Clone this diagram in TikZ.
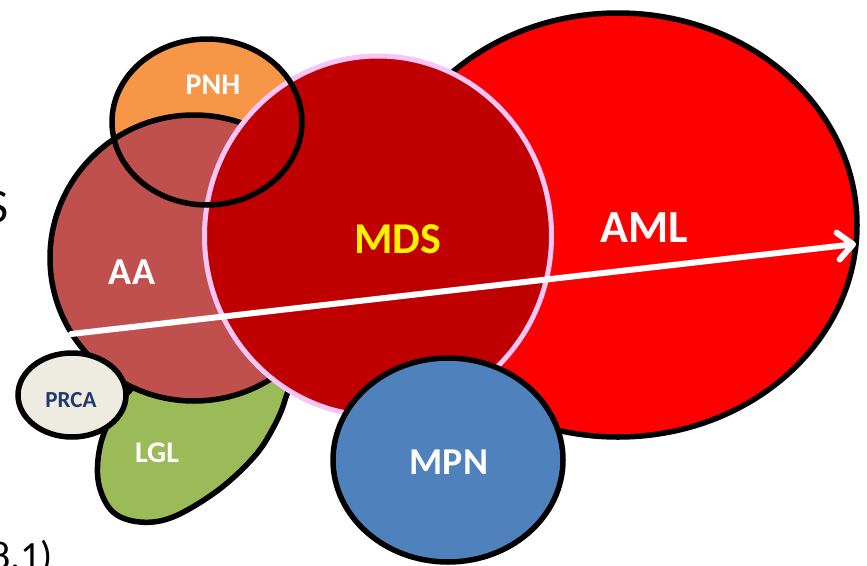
\documentclass[tikz,border=0pt]{standalone}
\usepackage{fontspec}
\setmainfont{Carlito}
\usetikzlibrary{shapes.geometric,arrows.meta}

\definecolor{amlred}{HTML}{FF0000}
\definecolor{mdsred}{HTML}{C00000}
\definecolor{mdspink}{HTML}{F9C4F6}
\definecolor{aarose}{HTML}{C0504D}
\definecolor{pnhorange}{HTML}{F79646}
\definecolor{lglgreen}{HTML}{9BBB59}
\definecolor{mpnblue}{HTML}{4F81BD}
\definecolor{prcacream}{HTML}{EEECE1}
\definecolor{prcanavy}{HTML}{1F3A70}

\tikzset{
  blob/.style={ellipse, inner sep=0pt, outer sep=0pt},
  rim/.style={draw=black, line width=5.5pt},
  tag/.style={inner sep=0pt, text=white, font=\bfseries\fontsize{#1}{#1}\selectfont},
  edgetext/.style={inner sep=0pt, text=black, font=\fontsize{#1}{#1}\selectfont},
}

\begin{document}
\begin{tikzpicture}[x=1pt,y=-1pt]
\useasboundingbox (0,0) rectangle (867,565);
\clip (0,0) rectangle (867,565);

% PNH fill sits at the back; its ring is drawn later on top
\node[blob, fill=pnhorange, minimum width=190pt, minimum height=166pt] (pnh) at (207,122) {};

% AML
\node[blob, rim, fill=amlred, minimum width=478pt, minimum height=424pt] (aml) at (618,225) {};

% LGL teardrop
\draw[rim, fill=lglgreen] plot[smooth cycle, tension=0.6] coordinates {
  (292,360) (285,400) (272,430) (253,458) (217,491) (173,517) (140,522)
  (113,512) (99,485) (99,452) (110,420) (135,385) (180,352) (240,342)};

% AA
\node[blob, rim, fill=aarose, minimum width=288pt, minimum height=286pt] (aa) at (194,258) {};

% PRCA
\node[blob, rim, fill=prcacream, minimum width=108pt, minimum height=84pt] (prca) at (72,395) {};

% MDS
\node[blob, draw=mdspink, line width=5pt, fill=mdsred, minimum width=347pt, minimum height=360pt] (mds) at (378,236) {};

% PNH ring over everything behind it
\node[blob, rim, minimum width=190pt, minimum height=166pt] (pnhring) at (207,122) {};

% MPN
\node[blob, rim, fill=mpnblue, minimum width=230pt, minimum height=204pt] (mpn) at (448,460) {};

% progression arrow
\coordinate (arrowtail) at (71,334);
\coordinate (arrowtip) at (856,244);
\draw[white, line width=6pt, line cap=round,
  -{Straight Barb[length=15pt, width=27pt, round]}] (arrowtail) -- (arrowtip);

% labels
\node[tag=30] (pnhtext) at (213,85) {PNH};
\node[tag=38] (aatext) at (132,272) {AA};
\node[tag=44, text=yellow] (mdstext) at (398,239) {MDS};
\node[tag=46] (amltext) at (644,228) {AML};
\node[tag=23, text=prcanavy] (prcatext) at (71,400) {PRCA};
\node[tag=30] (lgltext) at (157,453) {LGL};
\node[tag=38] (mpntext) at (449,462) {MPN};

% text running in from the page edges
\node[edgetext=48, anchor=east] (edgeS) at (9,207.5) {S};
\node[edgetext=40, anchor=base east] (edgenum) at (53,569) {8.1)};
\end{tikzpicture}
\end{document}
